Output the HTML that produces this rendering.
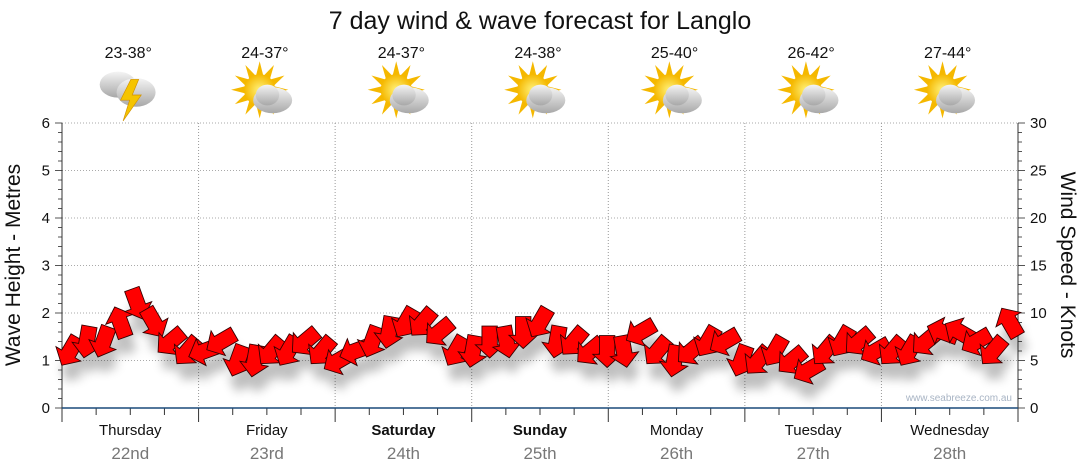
<!DOCTYPE html>
<html><head><meta charset="utf-8">
<style>
body{margin:0;background:#fff;width:1080px;height:475px;overflow:hidden;font-family:"Liberation Sans",sans-serif}
svg{display:block}
</style></head>
<body>
<svg id="c" width="1080" height="475" font-family="Liberation Sans, sans-serif">
<defs>
<filter id="sh" x="-50%" y="-50%" width="200%" height="200%"><feGaussianBlur stdDeviation="5"/></filter>
<radialGradient id="sun" cx="50%" cy="50%" r="50%"><stop offset="0" stop-color="#fff27a"/><stop offset="1" stop-color="#f5b800"/></radialGradient>
<linearGradient id="cl" x1="0" y1="0" x2="0" y2="1"><stop offset="0" stop-color="#f4f4f4"/><stop offset="1" stop-color="#a8a8a8"/></linearGradient>
</defs>
<text x="540" y="29" text-anchor="middle" font-size="25" fill="#111">7 day wind &amp; wave forecast for Langlo</text>
<g id="grid"></g>
<g id="axes"></g>
<g id="shadows" filter="url(#sh)" opacity="0.25"></g>
<g id="arrowsG"></g>
<text x="1012" y="401" text-anchor="end" font-size="10" fill="#a8b4c4">www.seabreeze.com.au</text>
<text transform="translate(20,265) rotate(-90)" text-anchor="middle" font-size="21" fill="#111">Wave Height - Metres</text>
<text transform="translate(1061,265) rotate(90)" text-anchor="middle" font-size="21" fill="#111">Wind Speed - Knots</text>
<g id="topG"></g>
</svg>
<script>
const days=["Thursday","Friday","Saturday","Sunday","Monday","Tuesday","Wednesday"];
const dates=["22nd","23rd","24th","25th","26th","27th","28th"];
const temps=["23-38°","24-37°","24-37°","24-38°","25-40°","26-42°","27-44°"];
const boldDays=[false,false,true,true,false,false,false];
const waveTicks=[0,1,2,3,4,5,6];
const windTicks=[0,5,10,15,20,25,30];
const windSpeed=[6,7,7,9,11,9,7,6, 6,7,5,5,6,6,7,6, 5,6,7,8,9,9,8,6, 6,7,7,8,9,7,7,6, 6,6,8,6,5,6,7,7, 5,5,6,5,4,6,7,7, 6,6,6,7,8,8,7,6,9];
const windDir=[120,100,110,250,70,60,140,130, 160,150,110,100,130,120,140,130, 150,160,110,100,120,130,140,120, 100,90,80,90,120,100,130,140, 90,80,150,130,100,140,120,150, 110,130,120,140,150,130,120,140, 150,130,120,140,200,210,150,130,240];
const NS="http://www.w3.org/2000/svg";
const X0=62,X1=1018,Y0=408,Y1=123;
const dayW=(X1-X0)/7;
const yWave=v=>Y0-(v/6)*(Y0-Y1);
const yWind=v=>Y0-(v/30)*(Y0-Y1);
const xIdx=i=>X0+8+i*(X1-X0-16)/(windSpeed.length-1);
function mk(t,a,p){const e=document.createElementNS(NS,t);for(const k in a)e.setAttribute(k,a[k]);(p||document.getElementById('c')).appendChild(e);return e;}
const gridG=document.getElementById('grid'),axesG=document.getElementById('axes');
waveTicks.forEach((v,i)=>{
 if(i>0){const l=mk('line',{x1:X0,x2:X1,y1:yWave(v),y2:yWave(v),stroke:'#aaa','stroke-dasharray':'1,2'},gridG);
 
 }
 const t=mk('text',{x:50,y:yWave(v)+5,'text-anchor':'end','font-size':15,fill:'#111'},axesG);t.textContent=v;
 
 
});
windTicks.forEach(v=>{
 const t=mk('text',{x:1030,y:yWind(v)+5,'font-size':15,fill:'#111'},axesG);t.textContent=v;
 
 
});
for(let k=0;k<=30;k++){const y=yWind(k),len=k%5==0?7:4;
 mk('line',{x1:X0-len,x2:X0,y1:y,y2:y,stroke:'#555'},axesG);
 mk('line',{x1:X1,x2:X1+len,y1:y,y2:y,stroke:'#555'},axesG);}
mk('line',{x1:X0,x2:X0,y1:Y1,y2:Y0,stroke:'#333'},axesG);
mk('line',{x1:X1,x2:X1,y1:Y1,y2:Y0,stroke:'#333'},axesG);
for(let d=1;d<7;d++){const x=X0+d*dayW;const l=mk('line',{x1:x,x2:x,y1:Y1,y2:Y0,stroke:'#999','stroke-dasharray':'1,2'},gridG);
 
 }
for(let q=0;q<=28;q++){const x=X0+q*dayW/4;mk('line',{x1:x,x2:x,y1:Y0,y2:Y0+(q%4==0?14:7),stroke:'#333'},axesG);}
mk('line',{x1:X0,x2:X1,y1:Y0,y2:Y0,stroke:'#1a4a7a','stroke-width':1.5},axesG);
const topG=document.getElementById('topG');
days.forEach((d,i)=>{const cx=X0+dayW*(i+0.5);
 const a=mk('text',{x:cx,y:435,'text-anchor':'middle','font-size':15,fill:'#111','font-weight':boldDays[i]?'bold':'normal'});a.textContent=d;
 
 
 const b=mk('text',{x:cx,y:459,'text-anchor':'middle','font-size':17,fill:'#777'});b.textContent=dates[i];
 
 
 const t=mk('text',{x:cx-2,y:58,'text-anchor':'middle','font-size':16,fill:'#111'});t.textContent=temps[i];
 
 
 const g=mk('g',{transform:`translate(${cx-2},95) scale(1.3)`},topG);
 
 
 if(i==0){
  mk('ellipse',{cx:-8,cy:-8,rx:14,ry:10,fill:'url(#cl)'},g);
  mk('ellipse',{cx:6,cy:-2,rx:15,ry:11,fill:'url(#cl)'},g);
  mk('polygon',{points:'2,-12 -6,4 1,4 -4,20 10,0 3,0 8,-12',fill:'#f5c400',stroke:'#d09000','stroke-width':0.5},g);
 }else{
  for(let r=0;r<12;r++){const an=r*30;mk('polygon',{points:'-3,-10 3,-10 0,-22',fill:'#f5b800',transform:`translate(-4,-4) rotate(${an})`},g);}
  mk('circle',{cx:-4,cy:-4,r:12,fill:'url(#sun)'},g);
  mk('ellipse',{cx:6,cy:4,rx:15,ry:10,fill:'url(#cl)'},g);
  mk('ellipse',{cx:2,cy:0,rx:9,ry:8,fill:'url(#cl)'},g);
 }
});
const arrowsG=document.getElementById('arrowsG'),shG=document.getElementById('shadows');
const pts='-14,-7 3,-7 3,-13 15,0 3,13 3,7 -14,7';
windSpeed.forEach((s,i)=>{
 const x=xIdx(i),y=yWind(s);
 mk('polygon',{points:pts,fill:'#000',transform:`translate(${x+4},${y+16}) rotate(${windDir[i]}) scale(1.1)`},shG);
 const p=mk('polygon',{points:pts,fill:'#ff0000',stroke:'#300','stroke-width':0.8,transform:`translate(${x},${y}) rotate(${windDir[i]}) scale(1.1)`},arrowsG);
 
 
});
</script>
</body></html>
